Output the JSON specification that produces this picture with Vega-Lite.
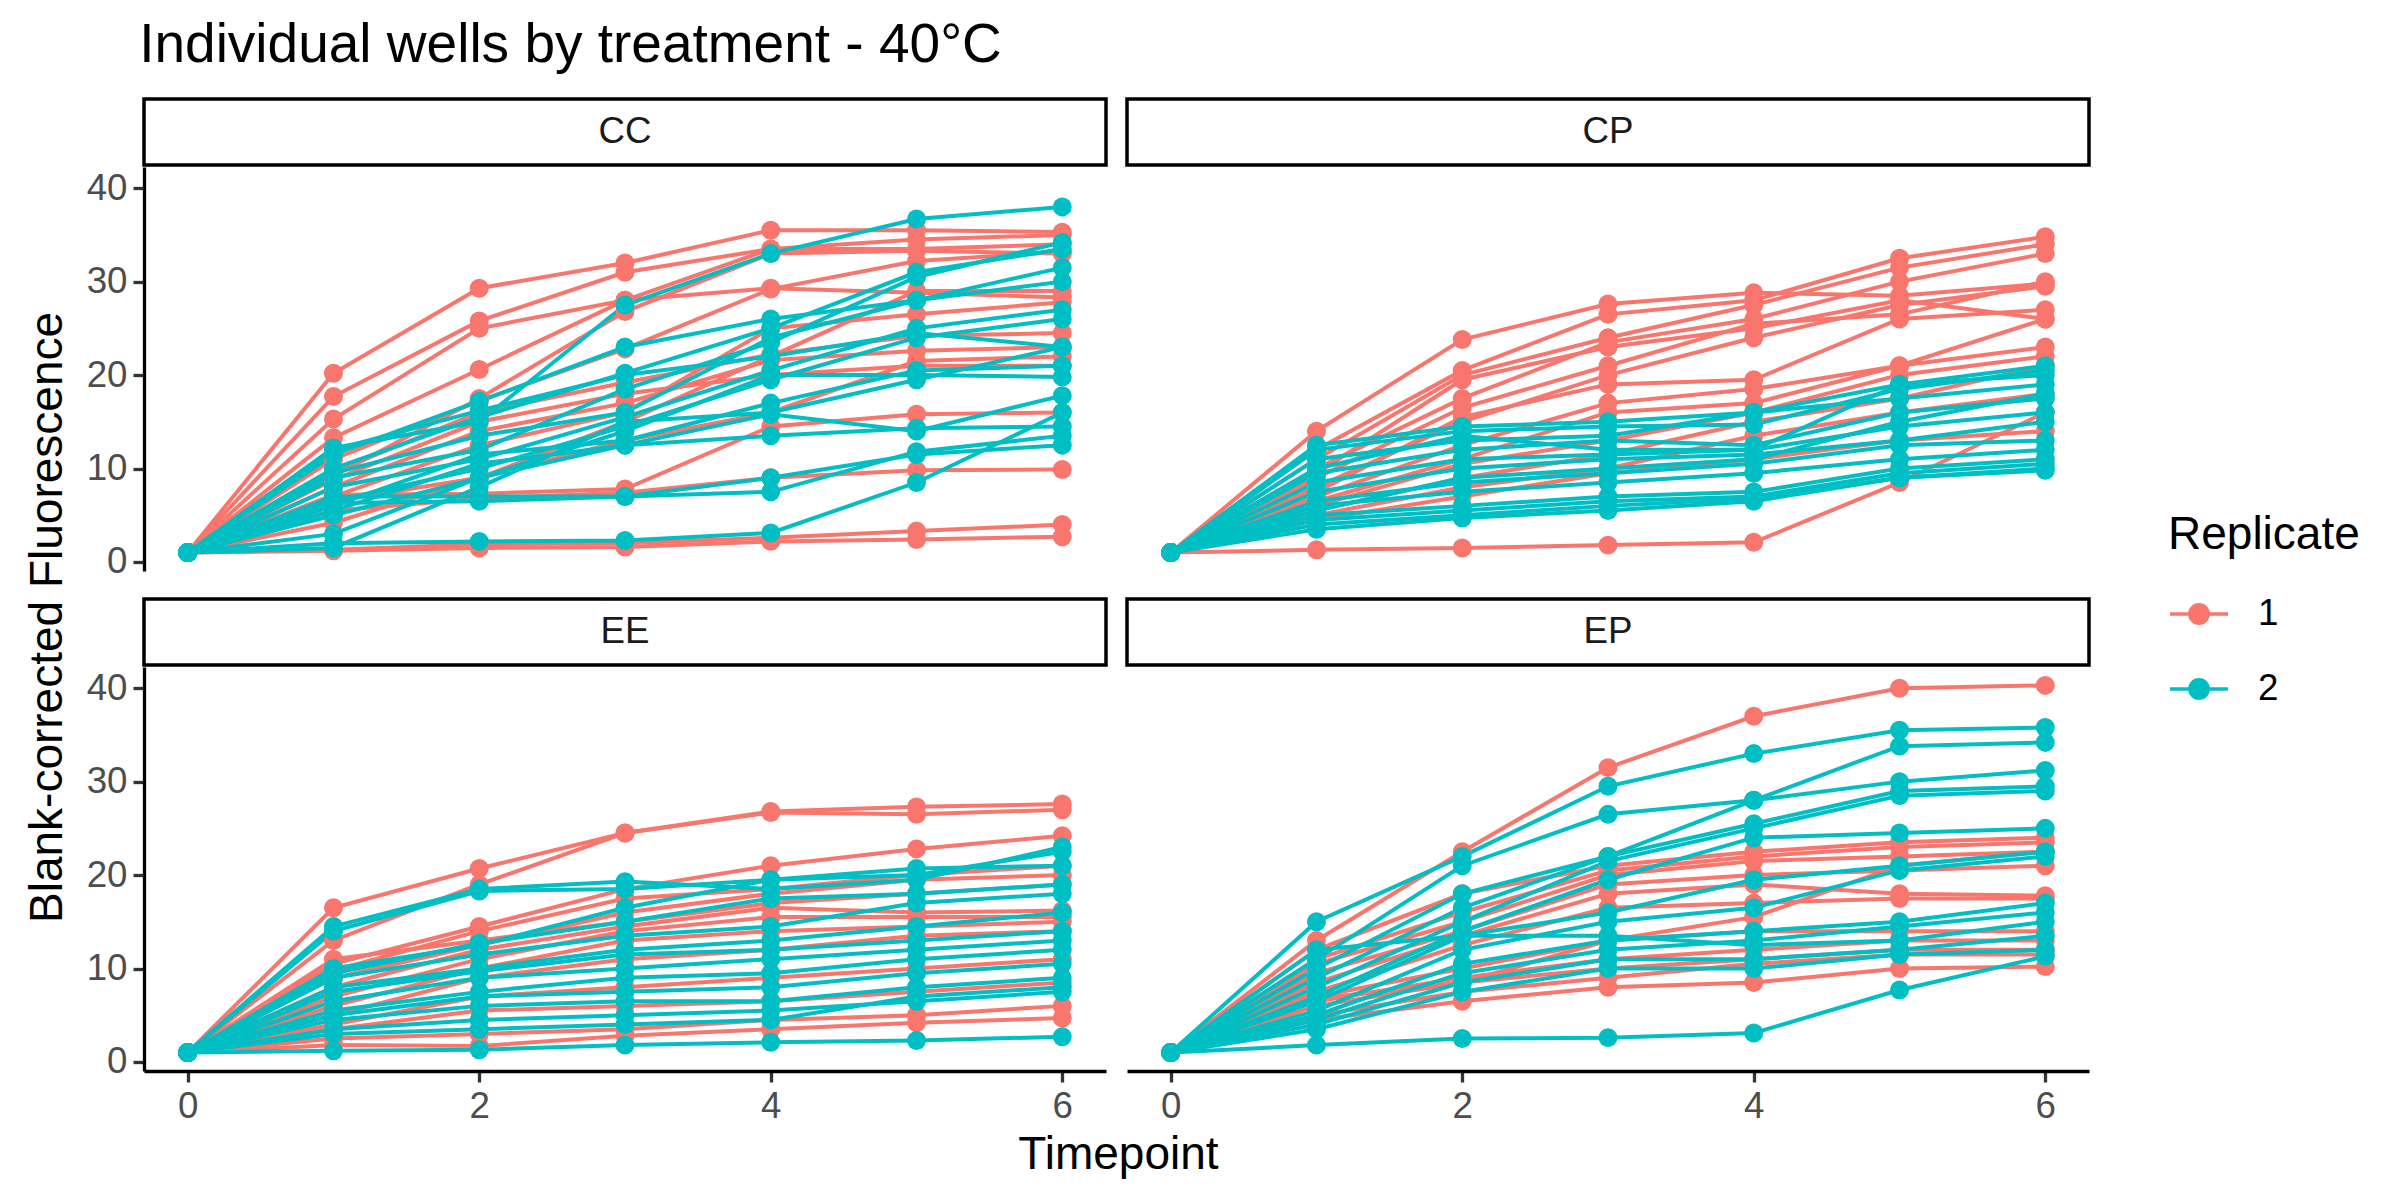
{
  "$schema": "https://vega.github.io/schema/vega-lite/v6.json",
  "background": "white",
  "padding": {"left": 25, "right": 10, "top": 18, "bottom": 20},
  "title": {
    "text": "Individual wells by treatment - 40°C",
    "anchor": "start",
    "fontSize": 55,
    "fontWeight": "normal",
    "color": "black",
    "dx": 114,
    "offset": 23
  },
  "datasets": {
    "wells": [
      {"Treatment": "CC", "Replicate": "1", "Well": "CC-1-01", "0": 1.0, "1": 20.2, "2": 29.3, "3": 32.0, "4": 35.5, "5": 35.5, "6": 35.3},
      {"Treatment": "CC", "Replicate": "1", "Well": "CC-1-02", "0": 1.0, "1": 17.7, "2": 25.8, "3": 31.0, "4": 33.5, "5": 34.5, "6": 35.0},
      {"Treatment": "CC", "Replicate": "1", "Well": "CC-1-03", "0": 1.0, "1": 15.3, "2": 25.0, "3": 28.0, "4": 29.3, "5": 28.8, "6": 28.3},
      {"Treatment": "CC", "Replicate": "1", "Well": "CC-1-04", "0": 1.0, "1": 13.3, "2": 20.6, "3": 28.0, "4": 33.5, "5": 33.5, "6": 34.0},
      {"Treatment": "CC", "Replicate": "1", "Well": "CC-1-05", "0": 1.0, "1": 11.0, "2": 17.2, "3": 22.8, "4": 29.2, "5": 32.2, "6": 33.2},
      {"Treatment": "CC", "Replicate": "1", "Well": "CC-1-06", "0": 1.0, "1": 9.6, "2": 16.0, "3": 19.2, "4": 22.2, "5": 24.2, "6": 24.5},
      {"Treatment": "CC", "Replicate": "1", "Well": "CC-1-07", "0": 1.0, "1": 8.8, "2": 15.0, "3": 18.0, "4": 20.0, "5": 21.0, "6": 21.0},
      {"Treatment": "CC", "Replicate": "1", "Well": "CC-1-08", "0": 1.0, "1": 8.0, "2": 14.0, "3": 17.0, "4": 21.6, "5": 22.6, "6": 23.0},
      {"Treatment": "CC", "Replicate": "1", "Well": "CC-1-09", "0": 1.0, "1": 7.0, "2": 12.5, "3": 16.0, "4": 25.0, "5": 26.5, "6": 27.8},
      {"Treatment": "CC", "Replicate": "1", "Well": "CC-1-10", "0": 1.0, "1": 6.5, "2": 9.0, "3": 13.0, "4": 16.0, "5": 21.5, "6": 22.0},
      {"Treatment": "CC", "Replicate": "1", "Well": "CC-1-11", "0": 1.0, "1": 7.2, "2": 7.3, "3": 7.8, "4": 14.5, "5": 15.8, "6": 16.0},
      {"Treatment": "CC", "Replicate": "1", "Well": "CC-1-12", "0": 1.0, "1": 4.2, "2": 9.0, "3": 15.0, "4": 22.0, "5": 29.0, "6": 29.0},
      {"Treatment": "CC", "Replicate": "1", "Well": "CC-1-13", "0": 1.0, "1": 5.5, "2": 6.8, "3": 7.4, "4": 9.0, "5": 9.8, "6": 9.9},
      {"Treatment": "CC", "Replicate": "1", "Well": "CC-1-14", "0": 1.0, "1": 1.3, "2": 1.9, "3": 2.0, "4": 2.6, "5": 3.3, "6": 4.0},
      {"Treatment": "CC", "Replicate": "1", "Well": "CC-1-15", "0": 1.0, "1": 1.2, "2": 1.5, "3": 1.6, "4": 2.2, "5": 2.4, "6": 2.7},
      {"Treatment": "CC", "Replicate": "1", "Well": "CC-1-16", "0": 1.0, "1": 9.2, "2": 17.5, "3": 26.8, "4": 33.0, "5": 33.3, "6": 33.0},
      {"Treatment": "CC", "Replicate": "2", "Well": "CC-2-01", "0": 1.0, "1": 12.2, "2": 15.0, "3": 27.5, "4": 33.0, "5": 36.7, "6": 38.0},
      {"Treatment": "CC", "Replicate": "2", "Well": "CC-2-02", "0": 1.0, "1": 11.5, "2": 17.2, "3": 23.0, "4": 26.0, "5": 28.0, "6": 31.5},
      {"Treatment": "CC", "Replicate": "2", "Well": "CC-2-03", "0": 1.0, "1": 10.0, "2": 15.5, "3": 20.2, "4": 25.0, "5": 31.0, "6": 33.5},
      {"Treatment": "CC", "Replicate": "2", "Well": "CC-2-04", "0": 1.0, "1": 9.0, "2": 12.0, "3": 18.5, "4": 23.5, "5": 30.5, "6": 34.2},
      {"Treatment": "CC", "Replicate": "2", "Well": "CC-2-05", "0": 1.0, "1": 8.0, "2": 11.0, "3": 15.5, "4": 20.5, "5": 25.0, "6": 27.0},
      {"Treatment": "CC", "Replicate": "2", "Well": "CC-2-06", "0": 1.0, "1": 6.5, "2": 10.0, "3": 14.5, "4": 19.5, "5": 24.0, "6": 26.0},
      {"Treatment": "CC", "Replicate": "2", "Well": "CC-2-07", "0": 1.0, "1": 6.0, "2": 11.5, "3": 13.0, "4": 17.0, "5": 20.5, "6": 21.0},
      {"Treatment": "CC", "Replicate": "2", "Well": "CC-2-08", "0": 1.0, "1": 5.5, "2": 10.5, "3": 12.5, "4": 13.5, "5": 14.3, "6": 14.5},
      {"Treatment": "CC", "Replicate": "2", "Well": "CC-2-09", "0": 1.0, "1": 7.0, "2": 7.0, "3": 7.0, "4": 9.0, "5": 11.5, "6": 12.5},
      {"Treatment": "CC", "Replicate": "2", "Well": "CC-2-10", "0": 1.0, "1": 6.3, "2": 6.5, "3": 7.0, "4": 7.5, "5": 11.8, "6": 13.5},
      {"Treatment": "CC", "Replicate": "2", "Well": "CC-2-11", "0": 1.0, "1": 3.0, "2": 9.0, "3": 14.0, "4": 20.0, "5": 20.0, "6": 19.8},
      {"Treatment": "CC", "Replicate": "2", "Well": "CC-2-12", "0": 1.0, "1": 2.0, "2": 2.2, "3": 2.3, "4": 3.1, "5": 8.5, "6": 16.0},
      {"Treatment": "CC", "Replicate": "2", "Well": "CC-2-13", "0": 1.0, "1": 1.5, "2": 8.0, "3": 15.0, "4": 16.0, "5": 19.5, "6": 23.0},
      {"Treatment": "CC", "Replicate": "2", "Well": "CC-2-14", "0": 1.0, "1": 12.0, "2": 16.2, "3": 20.0, "4": 22.0, "5": 24.5, "6": 23.0},
      {"Treatment": "CC", "Replicate": "2", "Well": "CC-2-15", "0": 1.0, "1": 9.5, "2": 13.5, "3": 16.0, "4": 24.0, "5": 28.0, "6": 30.0},
      {"Treatment": "CC", "Replicate": "2", "Well": "CC-2-16", "0": 1.0, "1": 5.0, "2": 9.0, "3": 12.5, "4": 15.8, "5": 14.0, "6": 17.8},
      {"Treatment": "CP", "Replicate": "1", "Well": "CP-1-01", "0": 1.0, "1": 14.0, "2": 23.8, "3": 27.6, "4": 28.8, "5": 28.5, "6": 29.8},
      {"Treatment": "CP", "Replicate": "1", "Well": "CP-1-02", "0": 1.0, "1": 12.0, "2": 20.5, "3": 26.5, "4": 28.0, "5": 32.5, "6": 34.8},
      {"Treatment": "CP", "Replicate": "1", "Well": "CP-1-03", "0": 1.0, "1": 11.0, "2": 20.0, "3": 24.0, "4": 27.5, "5": 31.5, "6": 34.0},
      {"Treatment": "CP", "Replicate": "1", "Well": "CP-1-04", "0": 1.0, "1": 10.0, "2": 17.5, "3": 23.5, "4": 26.0, "5": 30.0, "6": 33.0},
      {"Treatment": "CP", "Replicate": "1", "Well": "CP-1-05", "0": 1.0, "1": 9.0, "2": 16.5, "3": 21.0, "4": 25.5, "5": 26.5, "6": 30.0},
      {"Treatment": "CP", "Replicate": "1", "Well": "CP-1-06", "0": 1.0, "1": 8.0, "2": 15.0, "3": 20.0, "4": 24.0, "5": 27.5, "6": 29.5},
      {"Treatment": "CP", "Replicate": "1", "Well": "CP-1-07", "0": 1.0, "1": 7.5, "2": 15.5, "3": 19.0, "4": 19.5, "5": 26.0, "6": 27.0},
      {"Treatment": "CP", "Replicate": "1", "Well": "CP-1-08", "0": 1.0, "1": 7.0, "2": 12.5, "3": 17.0, "4": 18.5, "5": 21.0, "6": 26.0},
      {"Treatment": "CP", "Replicate": "1", "Well": "CP-1-09", "0": 1.0, "1": 6.5, "2": 11.0, "3": 16.0, "4": 17.0, "5": 21.0, "6": 23.0},
      {"Treatment": "CP", "Replicate": "1", "Well": "CP-1-10", "0": 1.0, "1": 6.0, "2": 10.5, "3": 13.0, "4": 16.0, "5": 20.0, "6": 22.0},
      {"Treatment": "CP", "Replicate": "1", "Well": "CP-1-11", "0": 1.0, "1": 5.5, "2": 9.0, "3": 11.5, "4": 15.0, "5": 17.5, "6": 21.0},
      {"Treatment": "CP", "Replicate": "1", "Well": "CP-1-12", "0": 1.0, "1": 5.0, "2": 8.0, "3": 10.0, "4": 13.5, "5": 16.0, "6": 18.0},
      {"Treatment": "CP", "Replicate": "1", "Well": "CP-1-13", "0": 1.0, "1": 4.5, "2": 7.0, "3": 9.5, "4": 11.0, "5": 13.0, "6": 14.0},
      {"Treatment": "CP", "Replicate": "1", "Well": "CP-1-14", "0": 1.0, "1": 1.3, "2": 1.5, "3": 1.8, "4": 2.1, "5": 8.5, "6": 16.0},
      {"Treatment": "CP", "Replicate": "1", "Well": "CP-1-15", "0": 1.0, "1": 9.5, "2": 19.5, "3": 23.0, "4": 25.0, "5": 28.0, "6": 26.0},
      {"Treatment": "CP", "Replicate": "2", "Well": "CP-2-01", "0": 1.0, "1": 12.5, "2": 14.5, "3": 15.0, "4": 16.0, "5": 19.0, "6": 21.0},
      {"Treatment": "CP", "Replicate": "2", "Well": "CP-2-02", "0": 1.0, "1": 12.0, "2": 14.0, "3": 14.5, "4": 14.7, "5": 18.5, "6": 20.5},
      {"Treatment": "CP", "Replicate": "2", "Well": "CP-2-03", "0": 1.0, "1": 11.0, "2": 13.0, "3": 13.5, "4": 16.0, "5": 17.5, "6": 19.0},
      {"Treatment": "CP", "Replicate": "2", "Well": "CP-2-04", "0": 1.0, "1": 9.5, "2": 12.0, "3": 13.0, "4": 12.5, "5": 16.0, "6": 17.5},
      {"Treatment": "CP", "Replicate": "2", "Well": "CP-2-05", "0": 1.0, "1": 8.5, "2": 11.0, "3": 11.5, "4": 12.0, "5": 14.5, "6": 16.0},
      {"Treatment": "CP", "Replicate": "2", "Well": "CP-2-06", "0": 1.0, "1": 7.5, "2": 10.0, "3": 11.0, "4": 11.5, "5": 13.0, "6": 15.0},
      {"Treatment": "CP", "Replicate": "2", "Well": "CP-2-07", "0": 1.0, "1": 6.5, "2": 8.5, "3": 9.5, "4": 10.5, "5": 12.5, "6": 13.0},
      {"Treatment": "CP", "Replicate": "2", "Well": "CP-2-08", "0": 1.0, "1": 6.0, "2": 7.5, "3": 8.5, "4": 9.5, "5": 11.0, "6": 12.0},
      {"Treatment": "CP", "Replicate": "2", "Well": "CP-2-09", "0": 1.0, "1": 5.0, "2": 6.0, "3": 7.0, "4": 7.5, "5": 10.0, "6": 11.0},
      {"Treatment": "CP", "Replicate": "2", "Well": "CP-2-10", "0": 1.0, "1": 4.5, "2": 5.5, "3": 6.5, "4": 7.0, "5": 9.5, "6": 10.5},
      {"Treatment": "CP", "Replicate": "2", "Well": "CP-2-11", "0": 1.0, "1": 4.0, "2": 5.0, "3": 6.0, "4": 6.8, "5": 9.0, "6": 10.0},
      {"Treatment": "CP", "Replicate": "2", "Well": "CP-2-12", "0": 1.0, "1": 3.5, "2": 4.7, "3": 5.5, "4": 6.5, "5": 9.0, "6": 9.8},
      {"Treatment": "CP", "Replicate": "2", "Well": "CP-2-13", "0": 1.0, "1": 10.0, "2": 13.5, "3": 12.0, "4": 12.0, "5": 19.0, "6": 20.0},
      {"Treatment": "CP", "Replicate": "2", "Well": "CP-2-14", "0": 1.0, "1": 5.5, "2": 9.0, "3": 10.0, "4": 11.0, "5": 15.0, "6": 18.0},
      {"Treatment": "EE", "Replicate": "1", "Well": "EE-1-01", "0": 1.0, "1": 16.5, "2": 20.7, "3": 24.5, "4": 26.8, "5": 27.3, "6": 27.6},
      {"Treatment": "EE", "Replicate": "1", "Well": "EE-1-02", "0": 1.0, "1": 13.0, "2": 19.0, "3": 24.5, "4": 26.7, "5": 26.5, "6": 27.0},
      {"Treatment": "EE", "Replicate": "1", "Well": "EE-1-03", "0": 1.0, "1": 10.5, "2": 14.5, "3": 18.5, "4": 21.0, "5": 22.8, "6": 24.2},
      {"Treatment": "EE", "Replicate": "1", "Well": "EE-1-04", "0": 1.0, "1": 9.8, "2": 14.0, "3": 17.5, "4": 18.5, "5": 20.0, "6": 21.0},
      {"Treatment": "EE", "Replicate": "1", "Well": "EE-1-05", "0": 1.0, "1": 9.0, "2": 12.5, "3": 16.0, "4": 18.0, "5": 19.5, "6": 20.0},
      {"Treatment": "EE", "Replicate": "1", "Well": "EE-1-06", "0": 1.0, "1": 8.0, "2": 12.0, "3": 14.5, "4": 16.5, "5": 16.0, "6": 16.2},
      {"Treatment": "EE", "Replicate": "1", "Well": "EE-1-07", "0": 1.0, "1": 7.0, "2": 11.0, "3": 14.0, "4": 15.5, "5": 15.5, "6": 15.5},
      {"Treatment": "EE", "Replicate": "1", "Well": "EE-1-08", "0": 1.0, "1": 6.0, "2": 10.0, "3": 13.0, "4": 14.0, "5": 14.5, "6": 15.0},
      {"Treatment": "EE", "Replicate": "1", "Well": "EE-1-09", "0": 1.0, "1": 5.0, "2": 9.0, "3": 11.0, "4": 12.0, "5": 13.5, "6": 14.0},
      {"Treatment": "EE", "Replicate": "1", "Well": "EE-1-10", "0": 1.0, "1": 4.0, "2": 7.0, "3": 8.0, "4": 9.0, "5": 10.0, "6": 11.0},
      {"Treatment": "EE", "Replicate": "1", "Well": "EE-1-11", "0": 1.0, "1": 3.5, "2": 5.5, "3": 6.0, "4": 6.5, "5": 7.5, "6": 8.5},
      {"Treatment": "EE", "Replicate": "1", "Well": "EE-1-12", "0": 1.0, "1": 2.5, "2": 3.0, "3": 3.5, "4": 4.5, "5": 5.0, "6": 6.0},
      {"Treatment": "EE", "Replicate": "1", "Well": "EE-1-13", "0": 1.0, "1": 1.8, "2": 1.7, "3": 2.8, "4": 3.5, "5": 4.2, "6": 4.7},
      {"Treatment": "EE", "Replicate": "1", "Well": "EE-1-14", "0": 1.0, "1": 11.0, "2": 13.0, "3": 15.0, "4": 17.0, "5": 18.0, "6": 19.0},
      {"Treatment": "EE", "Replicate": "2", "Well": "EE-2-01", "0": 1.0, "1": 14.5, "2": 18.5, "3": 19.3, "4": 18.5, "5": 19.5, "6": 23.0},
      {"Treatment": "EE", "Replicate": "2", "Well": "EE-2-02", "0": 1.0, "1": 14.0, "2": 18.3, "3": 18.5, "4": 19.5, "5": 20.7, "6": 21.0},
      {"Treatment": "EE", "Replicate": "2", "Well": "EE-2-03", "0": 1.0, "1": 10.0, "2": 12.5, "3": 16.5, "4": 19.5, "5": 20.0, "6": 22.5},
      {"Treatment": "EE", "Replicate": "2", "Well": "EE-2-04", "0": 1.0, "1": 9.5, "2": 12.7, "3": 15.0, "4": 17.5, "5": 18.0, "6": 19.0},
      {"Treatment": "EE", "Replicate": "2", "Well": "EE-2-05", "0": 1.0, "1": 9.0, "2": 11.5, "3": 13.5, "4": 14.5, "5": 17.0, "6": 18.0},
      {"Treatment": "EE", "Replicate": "2", "Well": "EE-2-06", "0": 1.0, "1": 8.0, "2": 10.0, "3": 12.0, "4": 13.0, "5": 14.5, "6": 16.0},
      {"Treatment": "EE", "Replicate": "2", "Well": "EE-2-07", "0": 1.0, "1": 7.5, "2": 9.7, "3": 11.5, "4": 12.0, "5": 13.0, "6": 14.0},
      {"Treatment": "EE", "Replicate": "2", "Well": "EE-2-08", "0": 1.0, "1": 6.5, "2": 9.0, "3": 10.0, "4": 11.0, "5": 12.0, "6": 13.0},
      {"Treatment": "EE", "Replicate": "2", "Well": "EE-2-09", "0": 1.0, "1": 5.5, "2": 7.5, "3": 9.0, "4": 9.5, "5": 11.0, "6": 12.0},
      {"Treatment": "EE", "Replicate": "2", "Well": "EE-2-10", "0": 1.0, "1": 5.0, "2": 7.0, "3": 7.5, "4": 8.0, "5": 9.5, "6": 10.5},
      {"Treatment": "EE", "Replicate": "2", "Well": "EE-2-11", "0": 1.0, "1": 4.5, "2": 6.0, "3": 6.5, "4": 6.5, "5": 8.0, "6": 9.0},
      {"Treatment": "EE", "Replicate": "2", "Well": "EE-2-12", "0": 1.0, "1": 3.5, "2": 4.5, "3": 5.0, "4": 5.5, "5": 6.5, "6": 7.5},
      {"Treatment": "EE", "Replicate": "2", "Well": "EE-2-13", "0": 1.0, "1": 3.0, "2": 3.5, "3": 4.0, "4": 4.5, "5": 7.0, "6": 8.0},
      {"Treatment": "EE", "Replicate": "2", "Well": "EE-2-14", "0": 1.0, "1": 1.2, "2": 1.3, "3": 1.8, "4": 2.1, "5": 2.3, "6": 2.7},
      {"Treatment": "EP", "Replicate": "1", "Well": "EP-1-01", "0": 1.0, "1": 13.0, "2": 22.5, "3": 31.5, "4": 37.0, "5": 40.0, "6": 40.3},
      {"Treatment": "EP", "Replicate": "1", "Well": "EP-1-02", "0": 1.0, "1": 12.0, "2": 18.0, "3": 21.0, "4": 22.5, "5": 23.5, "6": 24.0},
      {"Treatment": "EP", "Replicate": "1", "Well": "EP-1-03", "0": 1.0, "1": 11.0, "2": 16.0, "3": 20.5, "4": 22.0, "5": 23.0, "6": 23.5},
      {"Treatment": "EP", "Replicate": "1", "Well": "EP-1-04", "0": 1.0, "1": 10.5, "2": 15.0, "3": 20.0, "4": 21.5, "5": 22.0, "6": 22.5},
      {"Treatment": "EP", "Replicate": "1", "Well": "EP-1-05", "0": 1.0, "1": 9.5, "2": 14.0, "3": 19.0, "4": 20.0, "5": 20.5, "6": 21.0},
      {"Treatment": "EP", "Replicate": "1", "Well": "EP-1-06", "0": 1.0, "1": 8.5, "2": 13.5, "3": 18.0, "4": 19.0, "5": 18.0, "6": 17.8},
      {"Treatment": "EP", "Replicate": "1", "Well": "EP-1-07", "0": 1.0, "1": 7.5, "2": 12.5, "3": 16.5, "4": 17.0, "5": 17.5, "6": 17.5},
      {"Treatment": "EP", "Replicate": "1", "Well": "EP-1-08", "0": 1.0, "1": 7.0, "2": 10.0, "3": 13.0, "4": 14.0, "5": 14.0, "6": 14.0},
      {"Treatment": "EP", "Replicate": "1", "Well": "EP-1-09", "0": 1.0, "1": 6.5, "2": 9.0, "3": 11.0, "4": 12.0, "5": 13.0, "6": 13.0},
      {"Treatment": "EP", "Replicate": "1", "Well": "EP-1-10", "0": 1.0, "1": 6.0, "2": 8.5, "3": 10.0, "4": 11.0, "5": 12.0, "6": 12.0},
      {"Treatment": "EP", "Replicate": "1", "Well": "EP-1-11", "0": 1.0, "1": 5.0, "2": 7.5, "3": 9.0, "4": 10.5, "5": 11.5, "6": 11.5},
      {"Treatment": "EP", "Replicate": "1", "Well": "EP-1-12", "0": 1.0, "1": 4.5, "2": 6.5, "3": 8.0, "4": 8.5, "5": 10.0, "6": 10.2},
      {"Treatment": "EP", "Replicate": "1", "Well": "EP-1-13", "0": 1.0, "1": 6.8, "2": 8.5, "3": 13.0, "4": 15.5, "5": 21.0, "6": 22.5},
      {"Treatment": "EP", "Replicate": "2", "Well": "EP-2-01", "0": 1.0, "1": 15.0, "2": 22.0, "3": 29.5, "4": 33.0, "5": 35.5, "6": 35.8},
      {"Treatment": "EP", "Replicate": "2", "Well": "EP-2-02", "0": 1.0, "1": 11.0, "2": 21.0, "3": 26.5, "4": 28.0, "5": 33.8, "6": 34.2},
      {"Treatment": "EP", "Replicate": "2", "Well": "EP-2-03", "0": 1.0, "1": 10.0, "2": 18.0, "3": 22.0, "4": 28.0, "5": 30.0, "6": 31.2},
      {"Treatment": "EP", "Replicate": "2", "Well": "EP-2-04", "0": 1.0, "1": 9.0, "2": 16.5, "3": 22.0, "4": 25.5, "5": 29.0, "6": 29.5},
      {"Treatment": "EP", "Replicate": "2", "Well": "EP-2-05", "0": 1.0, "1": 8.0, "2": 15.0, "3": 21.5, "4": 25.0, "5": 28.5, "6": 29.0},
      {"Treatment": "EP", "Replicate": "2", "Well": "EP-2-06", "0": 1.0, "1": 7.0, "2": 14.0, "3": 19.5, "4": 24.0, "5": 24.5, "6": 25.0},
      {"Treatment": "EP", "Replicate": "2", "Well": "EP-2-07", "0": 1.0, "1": 6.5, "2": 13.5, "3": 16.0, "4": 19.5, "5": 21.0, "6": 22.5},
      {"Treatment": "EP", "Replicate": "2", "Well": "EP-2-08", "0": 1.0, "1": 5.5, "2": 12.0, "3": 15.0, "4": 16.5, "5": 20.5, "6": 22.0},
      {"Treatment": "EP", "Replicate": "2", "Well": "EP-2-09", "0": 1.0, "1": 5.0, "2": 10.5, "3": 13.0, "4": 14.0, "5": 15.0, "6": 17.0},
      {"Treatment": "EP", "Replicate": "2", "Well": "EP-2-10", "0": 1.0, "1": 4.5, "2": 9.5, "3": 12.0, "4": 13.0, "5": 14.5, "6": 16.0},
      {"Treatment": "EP", "Replicate": "2", "Well": "EP-2-11", "0": 1.0, "1": 4.0, "2": 8.5, "3": 11.0, "4": 11.0, "5": 12.0, "6": 13.5},
      {"Treatment": "EP", "Replicate": "2", "Well": "EP-2-12", "0": 1.0, "1": 3.5, "2": 7.5, "3": 10.0, "4": 10.0, "5": 11.5, "6": 12.0},
      {"Treatment": "EP", "Replicate": "2", "Well": "EP-2-13", "0": 1.0, "1": 1.8, "2": 2.5, "3": 2.6, "4": 3.1, "5": 7.7, "6": 11.3},
      {"Treatment": "EP", "Replicate": "2", "Well": "EP-2-14", "0": 1.0, "1": 12.0, "2": 13.5, "3": 13.5, "4": 12.5, "5": 13.0, "6": 15.0}
    ]
  },
  "vconcat": [
    {
      "title": {"text": "Blank-corrected Fluorescence", "orient": "left", "anchor": "middle", "fontSize": 46, "fontWeight": "normal", "color": "black", "offset": 14, "dx": 20},
      "vconcat": [
        {
          "title": {"text": "Timepoint", "orient": "bottom", "anchor": "middle", "fontSize": 46, "fontWeight": "normal", "color": "black", "offset": 8, "dx": 30},
          "spacing": 16,
          "vconcat": [
            {
              "spacing": 17,
              "hconcat": [
                {
                  "spacing": 0,
                  "vconcat": [
                    {
                      "data": {"values": [{"Treatment": "CC"}]},
                      "width": 962, "height": 66,
                      "view": {"stroke": "black", "strokeWidth": 3.5, "fill": "white"},
                      "mark": {"type": "text", "fontSize": 36.7, "color": "#1A1A1A"},
                      "encoding": {"text": {"field": "Treatment"}}
                    },
                    {
                      "data": {"name": "wells"},
                      "width": 962, "height": 404,
                      "transform": [
                        {"filter": "datum.Treatment == 'CC'"},
                        {"fold": ["0", "1", "2", "3", "4", "5", "6"], "as": ["Timepoint", "Fluorescence"]}
                      ],
                      "encoding": {
                        "x": {"field": "Timepoint", "type": "ordinal", "scale": {"type": "point", "padding": 0.3}, "axis": null},
                        "y": {"field": "Fluorescence", "type": "quantitative", "scale": {"domain": [-0.97, 42.27], "nice": false, "zero": false}, "axis": {"values": [0, 10, 20, 30, 40], "title": null}},
                        "color": {"field": "Replicate", "type": "nominal", "scale": {"domain": ["1", "2"], "range": ["#F8766D", "#00BFC4"]}, "title": "Replicate"},
                        "detail": {"field": "Well"}
                      },
                      "layer": [
                        {"mark": {"type": "line", "strokeWidth": 4}},
                        {"mark": {"type": "point", "filled": true, "size": 360, "opacity": 1}}
                      ]
                    }
                  ]
                },
                {
                  "spacing": 0,
                  "vconcat": [
                    {
                      "data": {"values": [{"Treatment": "CP"}]},
                      "width": 962, "height": 66,
                      "view": {"stroke": "black", "strokeWidth": 3.5, "fill": "white"},
                      "mark": {"type": "text", "fontSize": 36.7, "color": "#1A1A1A"},
                      "encoding": {"text": {"field": "Treatment"}}
                    },
                    {
                      "data": {"name": "wells"},
                      "width": 962, "height": 404,
                      "transform": [
                        {"filter": "datum.Treatment == 'CP'"},
                        {"fold": ["0", "1", "2", "3", "4", "5", "6"], "as": ["Timepoint", "Fluorescence"]}
                      ],
                      "encoding": {
                        "x": {"field": "Timepoint", "type": "ordinal", "scale": {"type": "point", "padding": 0.3}, "axis": null},
                        "y": {"field": "Fluorescence", "type": "quantitative", "scale": {"domain": [-0.97, 42.27], "nice": false, "zero": false}, "axis": null},
                        "color": {"field": "Replicate", "type": "nominal", "scale": {"domain": ["1", "2"], "range": ["#F8766D", "#00BFC4"]}, "title": "Replicate"},
                        "detail": {"field": "Well"}
                      },
                      "layer": [
                        {"mark": {"type": "line", "strokeWidth": 4}},
                        {"mark": {"type": "point", "filled": true, "size": 360, "opacity": 1}}
                      ]
                    }
                  ]
                }
              ]
            },
            {
              "spacing": 17,
              "hconcat": [
                {
                  "spacing": 0,
                  "vconcat": [
                    {
                      "data": {"values": [{"Treatment": "EE"}]},
                      "width": 962, "height": 66,
                      "view": {"stroke": "black", "strokeWidth": 3.5, "fill": "white"},
                      "mark": {"type": "text", "fontSize": 36.7, "color": "#1A1A1A"},
                      "encoding": {"text": {"field": "Treatment"}}
                    },
                    {
                      "data": {"name": "wells"},
                      "width": 962, "height": 404,
                      "transform": [
                        {"filter": "datum.Treatment == 'EE'"},
                        {"fold": ["0", "1", "2", "3", "4", "5", "6"], "as": ["Timepoint", "Fluorescence"]}
                      ],
                      "encoding": {
                        "x": {"field": "Timepoint", "type": "ordinal", "scale": {"type": "point", "padding": 0.3}, "axis": {"values": ["0", "2", "4", "6"], "labelAngle": 0, "title": null}},
                        "y": {"field": "Fluorescence", "type": "quantitative", "scale": {"domain": [-0.97, 42.27], "nice": false, "zero": false}, "axis": {"values": [0, 10, 20, 30, 40], "title": null}},
                        "color": {"field": "Replicate", "type": "nominal", "scale": {"domain": ["1", "2"], "range": ["#F8766D", "#00BFC4"]}, "title": "Replicate"},
                        "detail": {"field": "Well"}
                      },
                      "layer": [
                        {"mark": {"type": "line", "strokeWidth": 4}},
                        {"mark": {"type": "point", "filled": true, "size": 360, "opacity": 1}}
                      ]
                    }
                  ]
                },
                {
                  "spacing": 0,
                  "vconcat": [
                    {
                      "data": {"values": [{"Treatment": "EP"}]},
                      "width": 962, "height": 66,
                      "view": {"stroke": "black", "strokeWidth": 3.5, "fill": "white"},
                      "mark": {"type": "text", "fontSize": 36.7, "color": "#1A1A1A"},
                      "encoding": {"text": {"field": "Treatment"}}
                    },
                    {
                      "data": {"name": "wells"},
                      "width": 962, "height": 404,
                      "transform": [
                        {"filter": "datum.Treatment == 'EP'"},
                        {"fold": ["0", "1", "2", "3", "4", "5", "6"], "as": ["Timepoint", "Fluorescence"]}
                      ],
                      "encoding": {
                        "x": {"field": "Timepoint", "type": "ordinal", "scale": {"type": "point", "padding": 0.3}, "axis": {"values": ["0", "2", "4", "6"], "labelAngle": 0, "title": null}},
                        "y": {"field": "Fluorescence", "type": "quantitative", "scale": {"domain": [-0.97, 42.27], "nice": false, "zero": false}, "axis": null},
                        "color": {"field": "Replicate", "type": "nominal", "scale": {"domain": ["1", "2"], "range": ["#F8766D", "#00BFC4"]}, "title": "Replicate"},
                        "detail": {"field": "Well"}
                      },
                      "layer": [
                        {"mark": {"type": "line", "strokeWidth": 4}},
                        {"mark": {"type": "point", "filled": true, "size": 360, "opacity": 1}}
                      ]
                    }
                  ]
                }
              ]
            }
          ]
        }
      ]
    }
  ],
  "config": {
    "font": "Liberation Sans",
    "view": {"stroke": null},
    "axis": {
      "grid": false,
      "domainColor": "black",
      "domainWidth": 3.3,
      "tickColor": "#333333",
      "tickWidth": 3.3,
      "tickSize": 11,
      "labelFontSize": 36.7,
      "labelColor": "#4D4D4D",
      "labelPadding": 6
    },
    "legend": {
      "orient": "none",
      "legendX": 2024,
      "legendY": 414,
      "titleFontSize": 46,
      "titleFontWeight": "normal",
      "titleColor": "black",
      "titleLimit": 400,
      "titlePadding": 24,
      "labelFontSize": 36.7,
      "labelColor": "black",
      "labelOffset": 28,
      "rowPadding": 25,
      "symbolType": "M-1,0L1,0M-0.32,0A0.32,0.32,0,1,1,0.32,0A0.32,0.32,0,1,1,-0.32,0Z",
      "symbolSize": 3364,
      "symbolStrokeWidth": 3.3,
      "symbolOpacity": 1
    }
  }
}
